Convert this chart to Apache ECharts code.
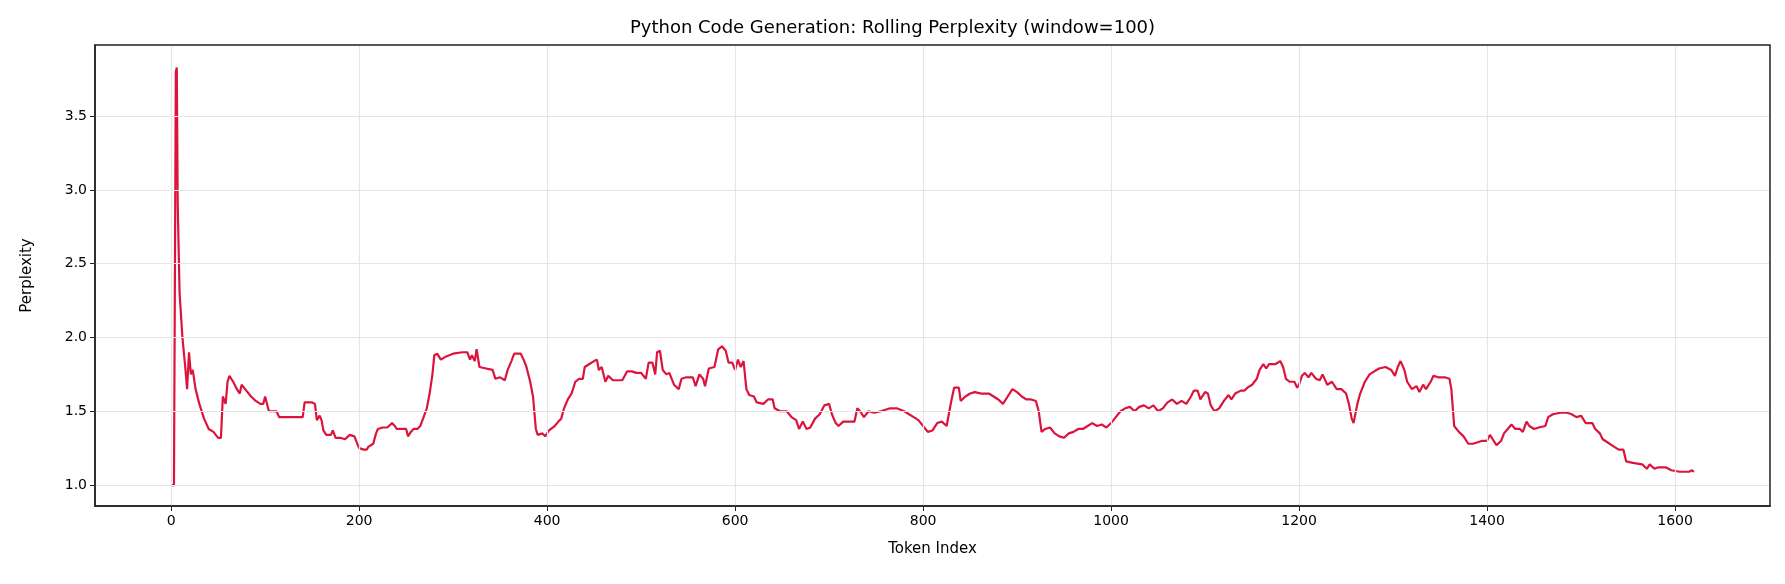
<!DOCTYPE html>
<html lang="en">
<head>
    <meta charset="UTF-8">
    <title>Rolling Perplexity</title>
    <style>
        body { margin: 0; background: #fff; }
        #chart { width: 1785px; height: 584px; }
    </style>
</head>
<body>
    <div id="chart"></div>
    <script src="https://cdn.jsdelivr.net/npm/echarts@6/dist/echarts.min.js"></script>
    <script>
        // token index / rolling perplexity
        var tokenIdx = [0,3,5,6,7,9,12,15,17,19,21,23,26,30,35,40,45,50,53,55,58,60,62,66,70,73,75,80,85,90,95,98,100,102,104,108,112,115,120,130,140,142,150,153,155,158,160,162,165,170,172,175,180,185,190,195,198,200,205,208,210,215,218,220,225,230,235,238,240,245,250,252,255,258,262,265,268,272,275,278,280,283,287,292,300,310,315,318,320,323,325,328,335,342,345,350,355,358,362,365,372,375,378,382,385,388,390,395,398,402,408,412,415,418,422,426,430,434,438,440,445,450,453,455,458,462,465,470,475,480,485,490,495,500,505,508,512,515,517,520,523,527,530,535,540,543,548,555,558,562,566,568,572,578,582,586,590,593,597,600,603,606,609,612,615,620,623,630,635,640,642,648,655,660,665,668,672,676,680,685,690,695,700,703,707,710,715,720,727,730,733,737,742,748,755,760,765,772,780,785,790,795,800,805,810,815,820,825,830,833,838,840,845,850,855,862,870,875,880,885,890,895,900,905,910,915,920,923,926,930,935,940,945,950,955,960,965,970,975,980,985,990,995,1000,1005,1010,1015,1020,1025,1030,1035,1040,1045,1050,1055,1060,1065,1070,1075,1080,1085,1088,1092,1095,1100,1103,1106,1110,1115,1120,1125,1128,1132,1138,1142,1145,1150,1155,1158,1162,1165,1168,1175,1180,1183,1186,1190,1195,1198,1200,1203,1206,1210,1213,1218,1222,1225,1230,1235,1240,1245,1250,1253,1256,1258,1262,1265,1270,1275,1280,1285,1292,1298,1302,1305,1308,1312,1315,1320,1325,1328,1332,1335,1340,1343,1348,1355,1360,1362,1365,1370,1375,1380,1385,1390,1395,1400,1403,1407,1410,1415,1418,1422,1426,1430,1435,1438,1442,1445,1450,1455,1462,1465,1470,1478,1485,1490,1495,1500,1505,1512,1515,1520,1523,1528,1535,1540,1545,1548,1555,1565,1570,1573,1578,1582,1590,1596,1605,1615,1618,1620];
        var perplexity = [1.0,1.0,3.8,3.83,2.9,2.3,2.0,1.8,1.65,1.9,1.75,1.78,1.65,1.55,1.45,1.38,1.36,1.32,1.32,1.6,1.55,1.7,1.74,1.7,1.65,1.62,1.68,1.64,1.6,1.57,1.55,1.55,1.6,1.6,1.5,1.5,1.5,1.46,1.46,1.46,1.46,1.56,1.56,1.55,1.44,1.47,1.44,1.37,1.34,1.34,1.37,1.32,1.32,1.31,1.34,1.33,1.28,1.25,1.24,1.24,1.26,1.28,1.35,1.38,1.39,1.39,1.42,1.4,1.38,1.38,1.38,1.33,1.36,1.38,1.38,1.4,1.45,1.52,1.62,1.75,1.88,1.89,1.85,1.87,1.89,1.9,1.9,1.85,1.88,1.84,1.92,1.8,1.79,1.78,1.72,1.73,1.71,1.78,1.84,1.89,1.89,1.85,1.8,1.7,1.6,1.38,1.34,1.35,1.33,1.37,1.4,1.43,1.45,1.52,1.58,1.62,1.7,1.72,1.72,1.8,1.82,1.84,1.85,1.78,1.8,1.7,1.74,1.71,1.71,1.71,1.77,1.77,1.76,1.76,1.72,1.83,1.83,1.75,1.9,1.91,1.78,1.75,1.76,1.68,1.65,1.72,1.73,1.73,1.67,1.75,1.72,1.67,1.79,1.8,1.92,1.94,1.91,1.83,1.83,1.78,1.85,1.8,1.84,1.65,1.61,1.6,1.56,1.55,1.58,1.58,1.52,1.5,1.5,1.46,1.44,1.38,1.43,1.38,1.39,1.45,1.48,1.54,1.55,1.48,1.42,1.4,1.43,1.43,1.43,1.52,1.5,1.46,1.5,1.49,1.5,1.51,1.52,1.52,1.5,1.48,1.46,1.44,1.4,1.36,1.37,1.42,1.43,1.4,1.57,1.66,1.66,1.57,1.6,1.62,1.63,1.62,1.62,1.6,1.58,1.55,1.6,1.65,1.63,1.6,1.58,1.58,1.57,1.5,1.36,1.38,1.39,1.35,1.33,1.32,1.35,1.36,1.38,1.38,1.4,1.42,1.4,1.41,1.39,1.42,1.46,1.5,1.52,1.53,1.5,1.53,1.54,1.52,1.54,1.5,1.52,1.56,1.58,1.55,1.57,1.55,1.6,1.64,1.64,1.58,1.63,1.62,1.54,1.5,1.52,1.57,1.61,1.58,1.62,1.64,1.64,1.66,1.68,1.72,1.78,1.82,1.79,1.82,1.82,1.84,1.8,1.72,1.7,1.7,1.66,1.68,1.74,1.76,1.73,1.76,1.72,1.71,1.75,1.68,1.7,1.65,1.65,1.62,1.55,1.45,1.42,1.55,1.62,1.7,1.75,1.77,1.79,1.8,1.78,1.74,1.8,1.84,1.78,1.7,1.65,1.67,1.63,1.68,1.65,1.7,1.74,1.73,1.73,1.72,1.65,1.4,1.36,1.33,1.28,1.28,1.29,1.3,1.3,1.34,1.3,1.27,1.3,1.35,1.38,1.41,1.38,1.38,1.36,1.43,1.4,1.38,1.39,1.4,1.46,1.48,1.49,1.49,1.48,1.46,1.47,1.42,1.42,1.38,1.35,1.31,1.29,1.26,1.24,1.24,1.16,1.15,1.14,1.11,1.14,1.11,1.12,1.12,1.1,1.09,1.09,1.1,1.09];
        var xTicks = [0, 200, 400, 600, 800, 1000, 1200, 1400, 1600];
        var yTicks = [1, 1.5, 2, 2.5, 3, 3.5];

        var chart = echarts.init(document.getElementById('chart'));
        var pts = tokenIdx.map(function (x, i) { return [x, perplexity[i]]; });
        var font = 'DejaVu Sans';

        chart.setOption({
            animation: false,
            title: {
                text: 'Python Code Generation: Rolling Perplexity (window=100)',
                left: 'center', top: 14,
                textStyle: { fontFamily: font, fontSize: 18, fontWeight: 'normal', color: '#000' }
            },
            grid: { left: 95, right: 15, top: 45, bottom: 78 },
            xAxis: {
                type: 'value', min: -81, max: 1701,
                name: 'Token Index', nameLocation: 'middle', nameGap: 36,
                nameTextStyle: { fontFamily: font, fontSize: 15, color: '#000' },
                axisLine: { onZero: false, lineStyle: { color: '#222', width: 1.5 } },
                axisTick: { show: true, length: 5, customValues: xTicks, lineStyle: { color: '#222' } },
                axisLabel: {
                    fontFamily: font, fontSize: 14, color: '#000',
                    customValues: xTicks,
                    formatter: function (v) { return String(v); }
                },
                splitLine: { show: false }
            },
            yAxis: {
                type: 'value', min: 0.858, max: 3.982,
                name: 'Perplexity', nameLocation: 'middle', nameGap: 60,
                nameTextStyle: { fontFamily: font, fontSize: 15, color: '#000' },
                axisLine: { show: true, onZero: false, lineStyle: { color: '#222', width: 1.5 } },
                axisTick: { show: true, length: 5, customValues: yTicks, lineStyle: { color: '#222' } },
                axisLabel: {
                    fontFamily: font, fontSize: 14, color: '#000',
                    customValues: yTicks,
                    formatter: function (v) { return v.toFixed(1); }
                },
                splitLine: { show: false }
            },
            series: [
                {
                    type: 'line', data: pts, showSymbol: false,
                    lineStyle: { color: '#dc143c', width: 2.2 }, z: 3
                },
                {
                    // grid lines at tick positions
                    type: 'line', data: [], silent: true,
                    markLine: {
                        symbol: 'none', silent: true, label: { show: false },
                        lineStyle: { color: '#e6e6e6', width: 1.2, type: 'solid' },
                        data: xTicks.map(function (v) { return { xAxis: v }; })
                            .concat(yTicks.map(function (v) { return { yAxis: v }; }))
                    },
                    z: 1
                }
            ],
            graphic: [{
                type: 'rect', shape: { x: 95, y: 45, width: 1785 - 110, height: 584 - 123 },
                style: { fill: 'none', stroke: '#222', lineWidth: 1.5 }, silent: true, z: 10
            }]
        });
    </script>
</body>
</html>
